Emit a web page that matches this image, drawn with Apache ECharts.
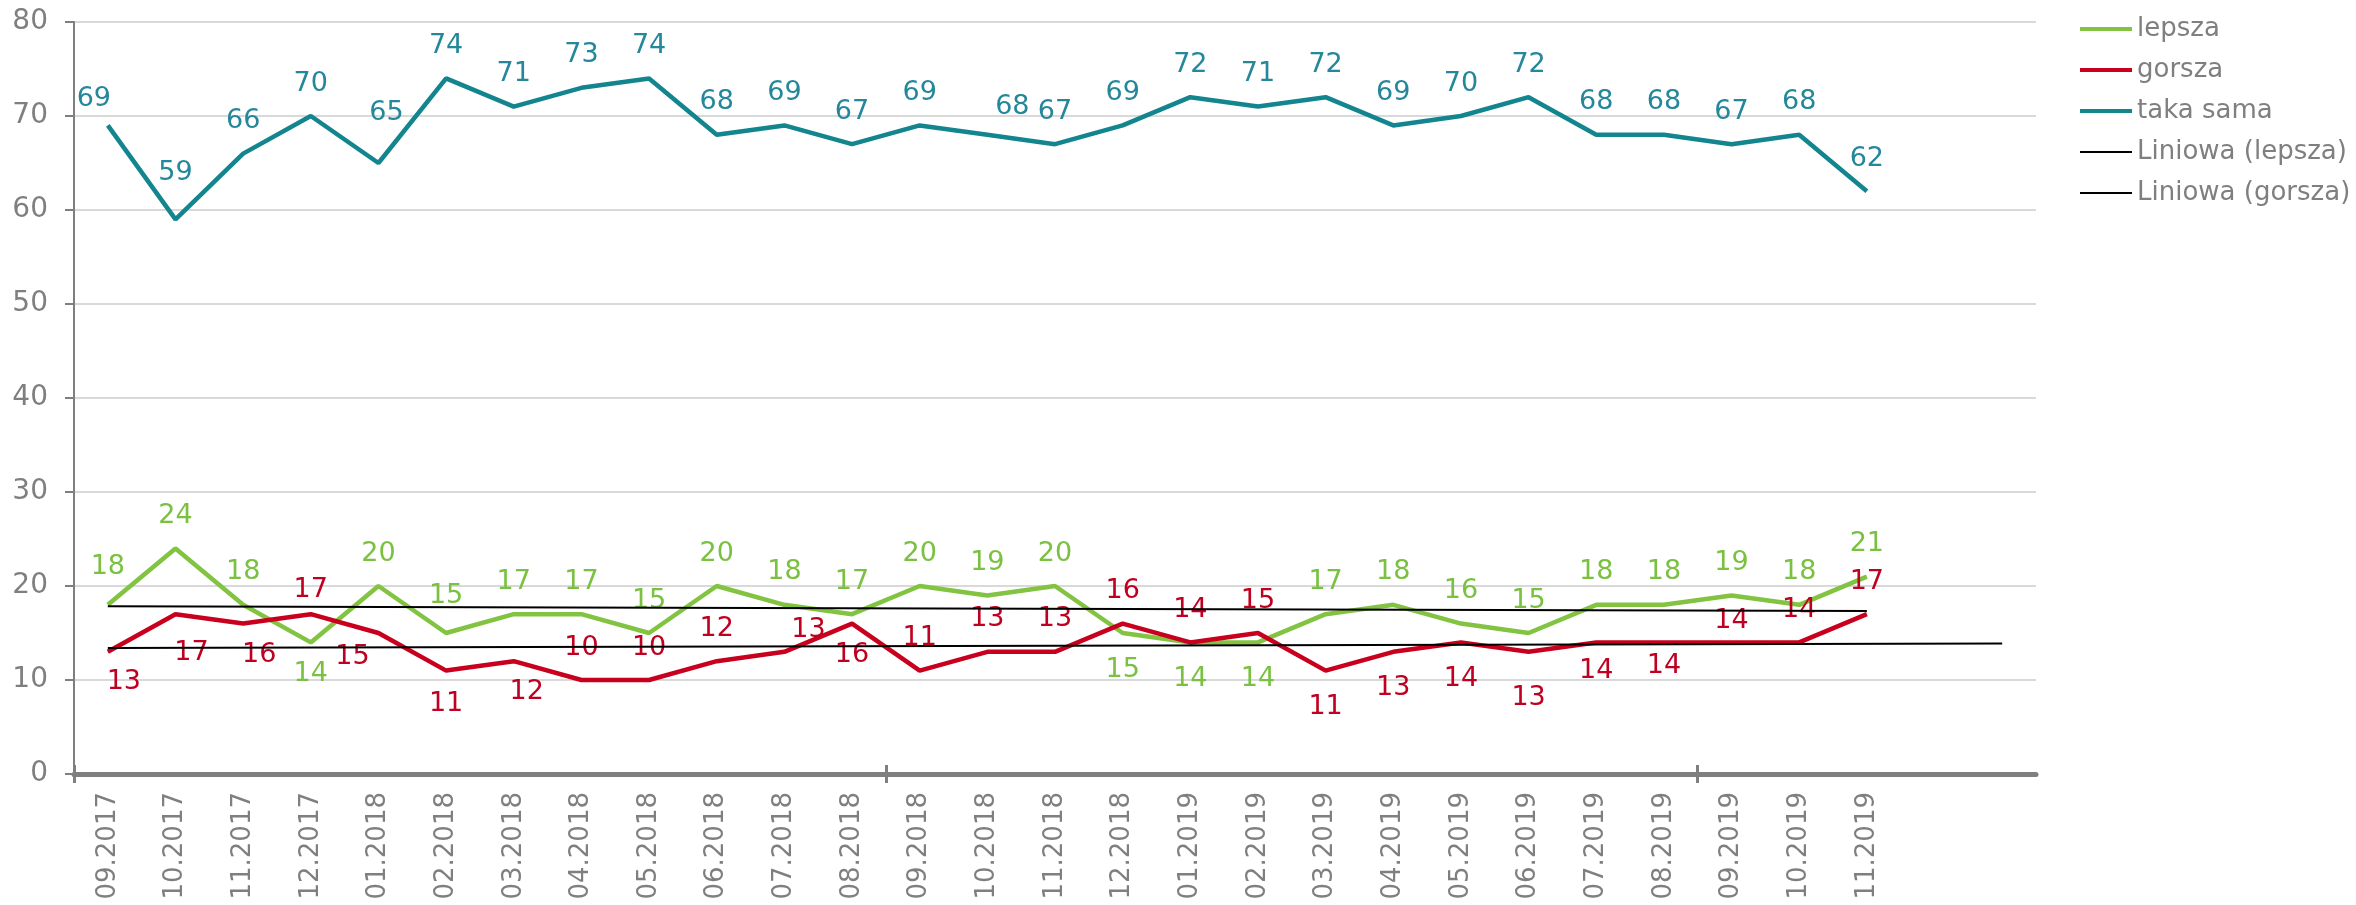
<!DOCTYPE html>
<html>
<head>
<meta charset="utf-8">
<script src="https://cdn.jsdelivr.net/npm/echarts@6/dist/echarts.min.js"></script>
<style>
  html, body { margin: 0; padding: 0; background: #fff; }
  #chart-container { width: 2356px; height: 905px; }
</style>
</head>
<body>
<div id="chart-container"></div>
<script>
// months, with two empty slots on the right for the trend forecast
var months = [
  "09.2017", "10.2017", "11.2017", "12.2017", "01.2018", "02.2018", "03.2018",
  "04.2018", "05.2018", "06.2018", "07.2018", "08.2018", "09.2018", "10.2018",
  "11.2018", "12.2018", "01.2019", "02.2019", "03.2019", "04.2019", "05.2019",
  "06.2019", "07.2019", "08.2019", "09.2019", "10.2019", "11.2019", "", ""
];

var lepsza = [18, 24, 18, 14, 20, 15, 17, 17, 15, 20, 18, 17, 20, 19, 20, 15, 14, 14, 17, 18, 16, 15, 18, 18, 19, 18, 21];
var gorsza = [13, 17, 16, 17, 15, 11, 12, 10, 10, 12, 13, 16, 11, 13, 13, 16, 14, 15, 11, 13, 14, 13, 14, 14, 14, 14, 17];
var takaSama = [69, 59, 66, 70, 65, 74, 71, 73, 74, 68, 69, 67, 69, 68, 67, 69, 72, 71, 72, 69, 70, 72, 68, 68, 67, 68, 62];

// trend lines: [value at start, value at end], end index
var trendLepsza = [17.84, 17.34];
var trendLepszaEnd = 26;
var trendGorsza = [13.40, 13.87];
var trendGorszaEnd = 28;

var yTicks = [0, 10, 20, 30, 40, 50, 60, 70, 80];
// year marks on the x axis (category boundaries)
var yearTicks = [0, 12, 24];

// label placement tweaks (index: [position, dx, dy])
var takaTweaks = { 0: ["top", -14, 6], 1: ["top", 0, -14], 4: ["top", 8, -18], 13: ["top", 25, 5] };
var lepszaTweaks = {
  0: ["top", 0, -5], 3: ["bottom", 0, -1], 5: ["top", 0, -5],
  15: ["bottom", 0, 4], 16: ["bottom", 0, 4], 17: ["bottom", 0, 4]
};
var gorszaTweaks = {
  0: ["bottom", 16, -2], 1: ["bottom", 16, 6], 2: ["bottom", 16, -1], 3: ["top", 0, 8],
  4: ["bottom", -26, -9], 5: ["bottom", 0, 1], 6: ["bottom", 13, -2], 10: ["top", 24, 11],
  11: ["bottom", 0, -1], 18: ["bottom", 0, 4], 19: ["bottom", 0, 4], 20: ["bottom", 0, 4],
  21: ["bottom", 0, 14], 22: ["bottom", 0, -4], 23: ["bottom", 0, -9], 24: ["top", 0, 11]
};

function withLabels(values, tweaks) {
  return values.map(function (v, i) {
    var t = tweaks[i];
    if (!t) return v;
    return { value: v, label: { position: t[0], offset: [t[1], t[2]] } };
  });
}

function trendData(ends, endIdx) {
  var arr = months.map(function () { return null; });
  arr[0] = ends[0];
  arr[endIdx] = ends[1];
  return arr;
}

var font = "'DejaVu Sans', Verdana, sans-serif";
var gray = "#7f7f7f";

function lineSeries(name, values, tweaks, lineColor, labelColor) {
  return {
    name: name,
    type: "line",
    data: withLabels(values, tweaks),
    symbol: "circle",
    symbolSize: 0,
    itemStyle: { color: lineColor },
    lineStyle: { color: lineColor, width: 4.5 },
    emphasis: { disabled: true },
    label: {
      show: true,
      position: "top",
      distance: 19,
      color: labelColor,
      fontSize: 27,
      fontFamily: font
    },
    z: 3
  };
}

// value axis spanning the same width as the category axis, only for tick marks
function tickAxis(inside) {
  return {
    type: "value",
    position: "bottom",
    min: 0,
    max: months.length,
    axisLine: { show: false },
    axisTick: {
      show: true,
      inside: inside,
      length: 9,
      customValues: yearTicks,
      lineStyle: { color: gray, width: 3 }
    },
    axisLabel: { show: false },
    splitLine: { show: false }
  };
}

var dom = document.getElementById("chart-container");
var myChart = echarts.init(dom, null, { renderer: "canvas" });

var thickIcon = "path://M0,0H52V4H0Z";
var thinIcon = "path://M0,0H52V2H0Z";

var option = {
  animation: false,
  grid: { left: 74, right: 320, top: 22, bottom: 131 },
  legend: {
    orient: "vertical",
    left: 2075,
    top: 9,
    itemWidth: 52,
    itemHeight: 14,
    itemGap: 11,
    textStyle: { fontSize: 26, color: gray, fontFamily: font, lineHeight: 30 },
    data: [
      { name: "lepsza", icon: thickIcon },
      { name: "gorsza", icon: thickIcon },
      { name: "taka sama", icon: thickIcon },
      { name: "Liniowa (lepsza)", icon: thinIcon },
      { name: "Liniowa (gorsza)", icon: thinIcon }
    ],
    selectedMode: false
  },
  xAxis: [
    {
      type: "category",
      data: months,
      boundaryGap: true,
      axisLine: { show: true, lineStyle: { color: gray, width: 5 } },
      axisTick: { show: false },
      axisLabel: {
        interval: 0,
        rotate: 90,
        margin: 18,
        color: gray,
        fontSize: 26,
        fontFamily: font
      },
      splitLine: { show: false },
      z: 1
    },
    tickAxis(false),
    tickAxis(true)
  ],
  yAxis: {
    type: "value",
    min: yTicks[0],
    max: yTicks[yTicks.length - 1],
    interval: 10,
    axisLine: { show: true, lineStyle: { color: gray, width: 2 } },
    axisTick: { show: true, length: 9, lineStyle: { color: gray, width: 2 } },
    axisLabel: { color: gray, fontSize: 28, fontFamily: font, margin: 26 },
    splitLine: { show: true, lineStyle: { color: "#d9d9d9", width: 2 } }
  },
  series: [
    lineSeries("lepsza", lepsza, lepszaTweaks, "#82c341", "#7ac142"),
    lineSeries("gorsza", gorsza, gorszaTweaks, "#c8001e", "#c00020"),
    lineSeries("taka sama", takaSama, takaTweaks, "#12858f", "#24879a"),
    {
      name: "Liniowa (lepsza)",
      type: "line",
      data: trendData(trendLepsza, trendLepszaEnd),
      connectNulls: true,
      symbol: "none",
      itemStyle: { color: "#000" },
      lineStyle: { color: "#000", width: 2 },
      silent: true,
      z: 4
    },
    {
      name: "Liniowa (gorsza)",
      type: "line",
      data: trendData(trendGorsza, trendGorszaEnd),
      connectNulls: true,
      symbol: "none",
      itemStyle: { color: "#000" },
      lineStyle: { color: "#000", width: 2 },
      silent: true,
      z: 4
    }
  ]
};

myChart.setOption(option);
window.addEventListener("resize", myChart.resize);
</script>
</body>
</html>
